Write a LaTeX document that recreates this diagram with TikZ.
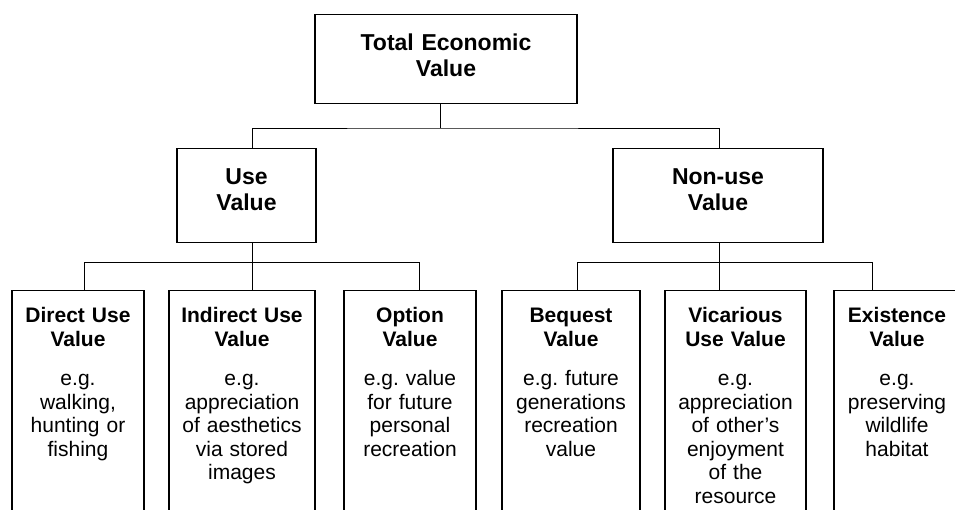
\documentclass[tikz,border=0pt]{standalone}
\usepackage{fontspec}
\setmainfont{Liberation Sans}
\frenchspacing
\usetikzlibrary{positioning}

\tikzset{
  box/.style={draw, line width=1.1pt, anchor=north, align=center, inner sep=0pt,
    text width=#1, text height=36pt,
    font=\bfseries\fontsize{23}{26}\selectfont},
  leaf/.style={draw, line width=1.1pt, anchor=north, align=center, inner sep=0pt,
    text width=#1, text height=32pt, text depth=250pt,
    font=\fontsize{21}{23.5}\selectfont},
  link/.style={line width=0.9pt}
}

\begin{document}
\begin{tikzpicture}[x=1pt, y=-1pt]
  \useasboundingbox (0,0) rectangle (955,509);
  \clip (0,0) rectangle (955,509);

  % top level
  \node[box=262pt, text depth=53pt] (tev) at (446,14)    {Total Economic\\Value};
  \node[box=139pt, text depth=57.5pt] (use) at (246.5,148.3) {Use\\Value};
  \node[box=210pt, text depth=57.5pt] (non) at (718,148.3)   {Non-use\\Value};

  % leaves
  \node[leaf=132pt] (d) at (78,290)    {{\bfseries Direct Use\\Value}\\[16pt]e.g.\\walking,\\hunting or\\fishing};
  \node[leaf=146pt] (i) at (242,290)   {{\bfseries Indirect Use\\Value}\\[16pt]e.g.\\appreciation\\of aesthetics\\via stored\\images};
  \node[leaf=132pt] (o) at (410,290)   {{\bfseries Option\\Value}\\[16pt]e.g. value\\for future\\personal\\recreation};
  \node[leaf=138pt] (b) at (571,290)   {{\bfseries Bequest\\Value}\\[16pt]e.g. future\\generations\\recreation\\value};
  \node[leaf=141pt] (v) at (735.5,290) {{\bfseries Vicarious\\Use Value}\\[16pt]e.g.\\appreciation\\of other's\\enjoyment\\of the\\resource};
  \node[leaf=126pt] (e) at (897,290)   {{\bfseries Existence\\Value}\\[16pt]e.g.\\preserving\\wildlife\\habitat};

  % connectors
  \coordinate (top-x) at (440,128);
  \foreach \n/\x in {d/84, i/252, o/419, b/577, v/719, e/872}
    \coordinate (\n-x) at (\x,262);

  \draw[link] (tev.south -| top-x) -- (top-x);
  \draw[link] (use.north -| i-x) |- (top-x) -| (non.north -| v-x);
  \draw[link] (use.south -| i-x) -- (i.north -| i-x);
  \draw[link] (non.south -| v-x) -- (v.north -| v-x);
  \draw[link] (d.north -| d-x) |- (o-x) -- (o.north -| o-x);
  \draw[link] (b.north -| b-x) |- (e-x) -- (e.north -| e-x);
\end{tikzpicture}
\end{document}
